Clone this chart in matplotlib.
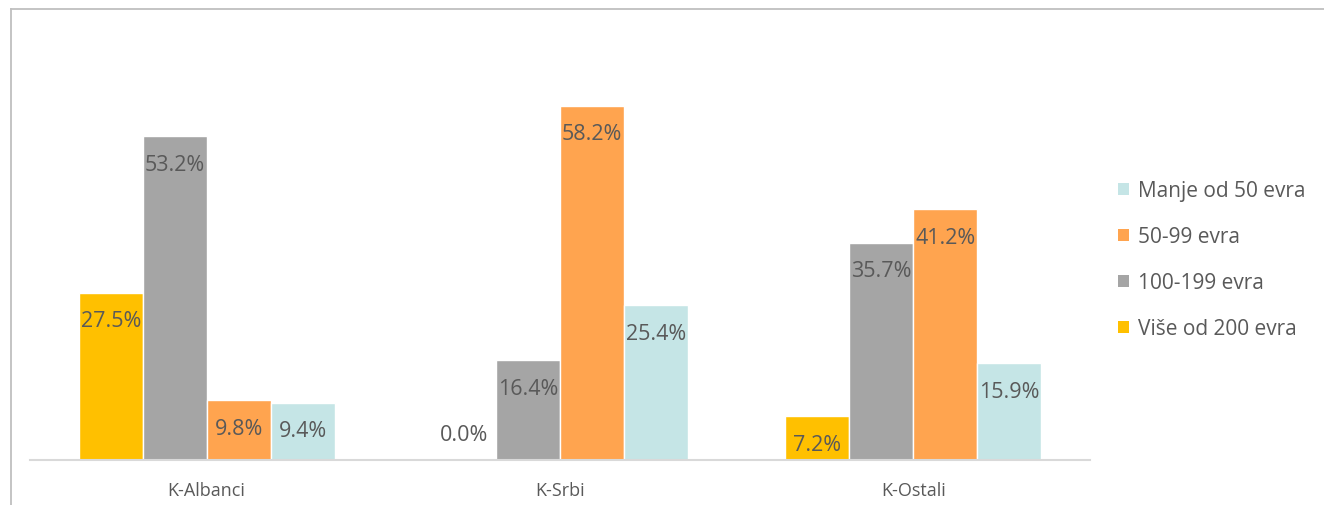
import matplotlib
matplotlib.use("Agg")
import matplotlib.pyplot as plt
from matplotlib.lines import Line2D
from matplotlib.patches import Patch
import numpy as np

plt.rcParams['font.family'] = ['Open Sans', 'DejaVu Sans']

categories = ["K-Albanci", "K-Srbi", "K-Ostali"]
series_names = ["Više od 200 evra", "100-199 evra", "50-99 evra", "Manje od 50 evra"]
vise_od_200 = [27.5, 0.0, 7.2]
od_100_199 = [53.2, 16.4, 35.7]
od_50_99 = [9.8, 58.2, 41.2]
manje_od_50 = [9.4, 25.4, 15.9]
series_values = [vise_od_200, od_100_199, od_50_99, manje_od_50]
colors = ["#FFC000", "#A5A5A5", "#FFA44F", "#C5E5E6"]

W, H = 1324, 506
fig = plt.figure(figsize=(W / 100, H / 100), dpi=100)
ax = fig.add_axes([30 / W, 45 / H, (1090 - 30) / W, (461 - 35) / H])

x = np.arange(len(categories))
bw = 0.181
offsets = (np.arange(4) - 1.5) * bw
text_color = "#595959"
for vals, off, col, name in zip(series_values, offsets, colors, series_names):
    bars = ax.bar(x + off, vals, width=bw, color=col, edgecolor="white", linewidth=1, label=name)
    for b, v in zip(bars, vals):
        dy = -28 if v > 0 else 25
        ax.annotate(f"{v:.1f}%", xy=(b.get_x() + b.get_width() / 2, v), xytext=(0, dy),
                    textcoords="offset pixels", ha="center", va="center",
                    fontsize=15.5, color=text_color)

ax.set_xlim(-0.5, 2.5)
ax.set_ylim(0, 70)
ax.set_yticks([])
ax.set_xticks(x)
ax.set_xticklabels(categories, fontsize=13, color=text_color)
ax.tick_params(axis="x", length=0, pad=15)
for s in ["top", "right", "left"]:
    ax.spines[s].set_visible(False)
ax.spines["bottom"].set_color("#D9D9D9")
ax.spines["bottom"].set_linewidth(1.5)

handles = [Patch(facecolor=c, edgecolor="none") for c in colors][::-1]
labels = series_names[::-1]
fig.legend(handles, labels, loc="center left", bbox_to_anchor=(1118 / W, (H - 261) / H),
           frameon=False, fontsize=15, labelcolor=text_color,
           handlelength=0.55, handleheight=0.55, handletextpad=0.4, labelspacing=1.2,
           borderpad=0, borderaxespad=0)

# outer border (top and left visible)
fig.add_artist(Line2D([11 / W, 1.0], [(H - 9.5) / H, (H - 9.5) / H], transform=fig.transFigure,
                      color="#BFBFBF", linewidth=1.3))
fig.add_artist(Line2D([11 / W, 11 / W], [0, (H - 9.5) / H], transform=fig.transFigure,
                      color="#BFBFBF", linewidth=1.3))

fig.savefig("out.png", dpi=100)
